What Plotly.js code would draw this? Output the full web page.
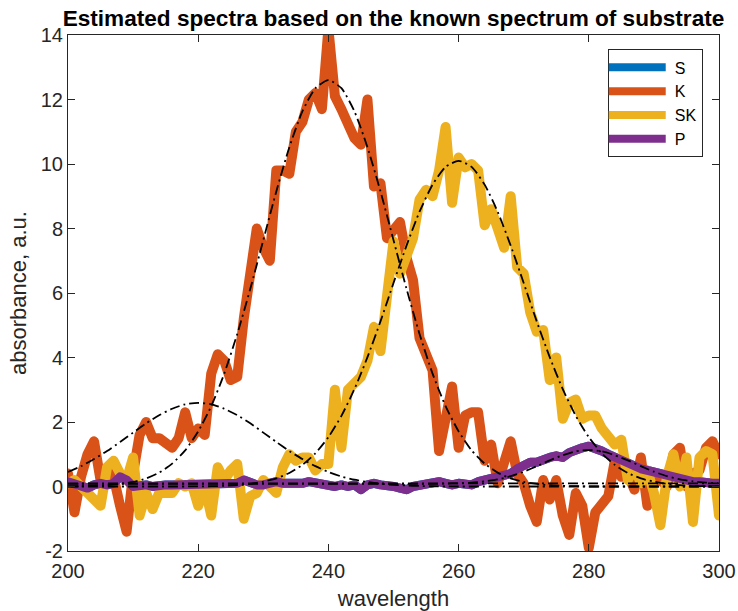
<!DOCTYPE html>
<html>
<head>
<meta charset="utf-8">
<script src="https://cdn.plot.ly/plotly-3.0.1.min.js"></script>
<style>
html,body{margin:0;padding:0;background:#fff;}
#chart{width:738px;height:611px;}
.scatterlayer .trace:nth-child(-n+4) path.js-line{stroke-linejoin:round !important;stroke-linecap:round !important;}
</style>
</head>
<body>
<div id="chart"></div>
<script>
// wavelength grid (nm)
const wavelength = [200,201,202,203,204,205,206,207,208,209,210,211,212,213,214,215,216,217,218,219,
  220,221,222,223,224,225,226,227,228,229,230,231,232,233,234,235,236,237,238,239,
  240,241,242,243,244,245,246,247,248,249,250,251,252,253,254,255,256,257,258,259,
  260,261,262,263,264,265,266,267,268,269,270,271,272,273,274,275,276,277,278,279,
  280,281,282,283,284,285,286,287,288,289,290,291,292,293,294,295,296,297,298,299,300];

// estimated K spectrum
const kVals = [0.4,-0.8,0.3,1.0,1.4,0.2,0.5,0.3,-0.6,-1.4,0.4,1.6,2.0,1.5,1.5,1.3,1.2,1.5,2.3,1.5,
  1.8,1.6,3.5,4.1,3.9,3.3,3.4,5.2,6.7,8.0,7.4,7.0,9.8,9.8,9.7,11.0,11.3,12.0,12.2,11.7,
  14.2,12.1,11.7,11.3,10.8,10.6,12.0,9.3,9.4,7.7,7.9,8.2,7.1,6.4,4.6,4.1,3.6,1.1,2.3,3.1,
  1.2,2.2,2.3,2.3,0.8,1.3,0.1,0.9,1.4,0.4,0.1,-0.6,-1.1,0.2,-0.4,0.2,-0.9,-1.5,-0.2,-0.6,
  -1.9,-0.8,-0.5,-0.3,0.8,0.3,0.4,-0.1,0.9,-0.6,0.2,0.2,0.0,1.0,1.2,0.0,0.4,0.5,1.2,1.4,1.0];

// estimated SK spectrum
const skVals = [0.1,0.2,0.0,-0.2,-0.4,-0.6,0.6,0.8,0.4,0.2,0.9,-0.9,-0.2,-0.7,-0.2,-0.2,-0.2,0.1,0.0,0.1,
  -0.6,0.0,-0.9,0.6,0.2,0.5,0.7,-1.0,-0.3,-0.2,0.2,0.0,-0.2,0.6,1.0,0.8,0.9,0.9,0.5,0.7,
  0.7,3.0,1.2,3.0,3.2,3.4,3.9,4.95,4.2,6.2,7.6,6.6,7.2,7.7,8.9,9.2,9.0,9.8,11.15,8.8,
  10.2,9.9,10.0,9.8,8.1,8.6,8.0,7.4,9.0,6.8,6.6,5.4,4.8,4.85,3.3,4.0,2.1,2.6,2.7,2.1,
  2.2,2.2,1.8,1.5,1.3,1.45,0.2,0.6,0.1,0.5,-0.2,-1.2,0.3,1.0,0.0,0.9,-1.1,0.9,1.1,1.0,-0.9];

// estimated P spectrum
const pVals = [0.15,0.1,0.05,-0.05,0.05,0.1,0.05,0.1,0.3,0.2,0.0,0.05,0.05,0.0,0.05,0.05,0.05,0.05,0.05,0.1,
  0.05,0.05,0.05,0.1,0.1,0.05,0.1,0.2,0.1,0.05,0.05,0.1,0.15,0.1,0.1,0.05,0.1,0.15,0.1,0.1,
  0.05,0.0,0.05,0.0,0.05,-0.1,0.05,0.1,0.05,0.05,0.0,-0.05,-0.1,0.0,0.05,0.05,0.1,0.15,0.1,0.05,
  0.1,0.1,0.05,0.15,0.2,0.25,0.3,0.35,0.4,0.55,0.65,0.75,0.75,0.85,0.9,0.95,0.9,1.05,1.15,1.2,
  1.25,1.2,1.1,1.0,0.9,0.8,0.75,0.6,0.55,0.5,0.45,0.4,0.3,0.3,0.25,0.2,0.15,0.15,0.1,0.1,0.1];

// estimated S spectrum (not visible: lies under P)
const sVals = pVals.slice();

// reference (known) spectra, dash-dot, sampled every 2 nm
const refX = [200,202,204,206,208,210,212,214,216,218,220,222,224,226,228,230,232,234,236,238,
  240,242,244,246,248,250,252,254,256,258,260,262,264,266,268,270,272,274,276,278,
  280,282,284,286,288,290,292,294,296,298,300];
const refS = [0.45,0.63,0.85,1.10,1.38,1.67,1.96,2.21,2.41,2.55,2.59,2.55,2.41,2.21,1.96,1.67,1.38,1.10,0.85,0.63,
  0.45,0.31,0.21,0.14,0.085,0.05,0.03,0.016,0.008,0.004,0,0,0,0,0,0,0,0,0,0,
  0,0,0,0,0,0,0,0,0,0,0];
const refK = [0.0,0.01,0.02,0.04,0.08,0.14,0.25,0.43,0.71,1.12,1.71,2.49,3.50,4.73,6.13,7.64,9.15,10.52,11.63,12.35,
  12.60,12.35,11.63,10.52,9.15,7.64,6.13,4.73,3.50,2.49,1.71,1.12,0.71,0.43,0.25,0.14,0.08,0.04,0.02,0.01,
  0,0,0,0,0,0,0,0,0,0,0];
const refSK = [0,0,0,0,0,0,0,0,0,0,0.005,0.01,0.02,0.04,0.08,0.15,0.25,0.42,0.67,1.03,
  1.53,2.19,3.02,4.01,5.12,6.31,7.47,8.52,9.36,9.91,10.1,9.91,9.36,8.52,7.47,6.31,5.12,4.01,3.02,2.19,
  1.53,1.03,0.67,0.42,0.25,0.15,0.08,0.04,0.02,0.01,0.005];
const refP = [0.08,0.08,0.08,0.08,0.08,0.08,0.08,0.08,0.08,0.08,0.08,0.08,0.08,0.08,0.08,0.08,0.08,0.08,0.08,0.08,
  0.08,0.08,0.08,0.08,0.08,0.08,0.08,0.08,0.08,0.09,0.10,0.12,0.16,0.22,0.32,0.46,0.63,0.81,0.97,1.09,
  1.13,1.09,0.97,0.81,0.63,0.46,0.32,0.22,0.16,0.12,0.10];
const baseX = [200,300];
const baseY = [0.1,0.1];

const xTicks = [200,220,240,260,280,300];
const yTicks = [-2,0,2,4,6,8,10,12,14];

const seriesNames = ['S','K','SK','P'];
const seriesColors = ['#0072BD','#D95319','#EDB120','#7E2F8E'];
const seriesData = [sVals,kVals,skVals,pVals];
const seriesWidths = [9,10,10,9];

const traces = [];
seriesNames.forEach((n,i)=>{
  traces.push({x:wavelength,y:seriesData[i],type:'scatter',mode:'lines',name:n,
    line:{color:seriesColors[i],width:seriesWidths[i],shape:'linear'}});
});
const dashPat = '10px,4px,2px,4px';
[[refX,refS],[refX,refK],[refX,refSK],[refX,refP],[baseX,baseY]].forEach(([xx,yy])=>{
  traces.push({x:xx,y:yy,type:'scatter',mode:'lines',showlegend:false,hoverinfo:'skip',
    line:{color:'#000',width:1.8,dash:dashPat,shape:'spline',smoothing:0.6}});
});

const fontFam = 'Liberation Sans, Arial, Helvetica, sans-serif';
const axisCommon = {
  showline:true, linecolor:'#262626', linewidth:1, mirror:'allticks',
  ticks:'inside', ticklen:7, tickwidth:1, tickcolor:'#262626',
  showgrid:false, zeroline:false, tickfont:{size:20,color:'#262626',family:fontFam}
};
const layout = {
  width:738, height:611,
  margin:{l:68,r:19,t:35,b:60,pad:0},
  paper_bgcolor:'#fff', plot_bgcolor:'#fff',
  font:{family:fontFam,color:'#262626'},
  showlegend:true,
  title:{text:'Estimated spectra based on the known spectrum of substrate',
    font:{size:22.6,color:'#000',family:fontFam,weight:'bold'},
    xref:'paper', x:0.5, xanchor:'center', yref:'container', y:0.9705, yanchor:'middle'},
  xaxis:Object.assign({}, axisCommon, {range:[200,300], tickvals:xTicks, ticktext:xTicks.map(String),
    ticklabelstandoff:2,
    title:{text:'wavelength', font:{size:22,color:'#262626',family:fontFam}, standoff:9}}),
  yaxis:Object.assign({}, axisCommon, {range:[-2,14], tickvals:yTicks, ticktext:yTicks.map(String),
    title:{text:'absorbance, a.u.', font:{size:22,color:'#262626',family:fontFam}, standoff:8}}),
  legend:{x:0.975, xanchor:'right', y:0.972, yanchor:'top', bgcolor:'#fff',
    bordercolor:'#262626', borderwidth:1, font:{size:16,color:'#000',family:fontFam},
    itemwidth:56, tracegroupgap:0},
  hovermode:false
};
Plotly.newPlot('chart', traces, layout, {displayModeBar:false, staticPlot:true}).then(gd=>{
  // lengthen the legend line samples to match the reference key
  gd.querySelectorAll('.legend .legendlines path').forEach(p=>{
    p.setAttribute('d','M-2,0h59');
    p.style.strokeWidth='8px';
  });
});
</script>
</body>
</html>
